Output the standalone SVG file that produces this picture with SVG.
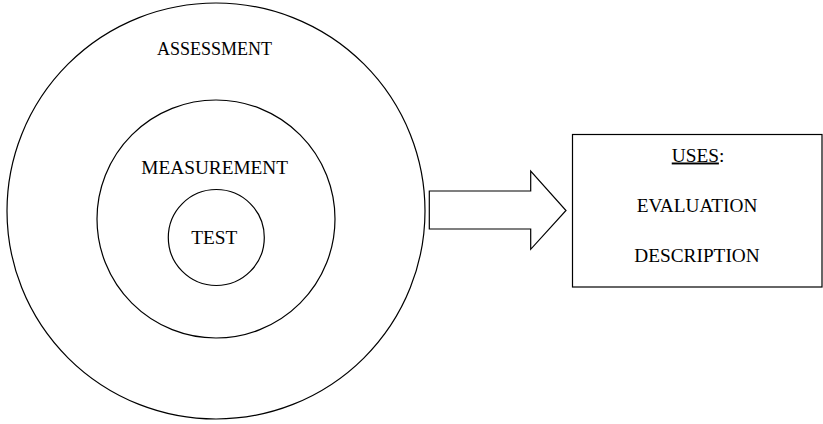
<svg xmlns="http://www.w3.org/2000/svg" width="823" height="424" viewBox="0 0 823 424">
  <style>
    .shape { fill: none; stroke: #000; stroke-width: 1.2; }
    .lbl { font-family: "Liberation Serif", "Times New Roman", serif; font-size: 19.3px; fill: #000; text-anchor: middle; }
    .big { font-size: 18px; }
  </style>
  <rect width="823" height="424" fill="#fff"/>
  <g id="assessment">
    <ellipse class="shape" cx="216" cy="211" rx="209" ry="208"/>
    <text class="lbl big" x="214.5" y="55">ASSESSMENT</text>
  </g>
  <g id="measurement">
    <circle class="shape" cx="216" cy="219" r="119"/>
    <text class="lbl" x="214.7" y="174.3">MEASUREMENT</text>
  </g>
  <g id="test">
    <circle class="shape" cx="216.3" cy="237.5" r="48"/>
    <text class="lbl" x="214.3" y="244.3">TEST</text>
  </g>
  <g id="connectors">
    <path class="shape" d="M429.3,191 L530.7,191 L530.7,171 L566,210.5 L530.7,249.3 L530.7,229 L429.3,229 Z"/>
  </g>
  <g id="uses">
    <rect class="shape" x="572.5" y="134.5" width="249.5" height="152.5"/>
    <text class="lbl" x="698" y="161.5"><tspan text-decoration="underline">USES</tspan>:</text>
    <text class="lbl" x="697" y="212">EVALUATION</text>
    <text class="lbl" x="697" y="261.5">DESCRIPTION</text>
  </g>
</svg>
